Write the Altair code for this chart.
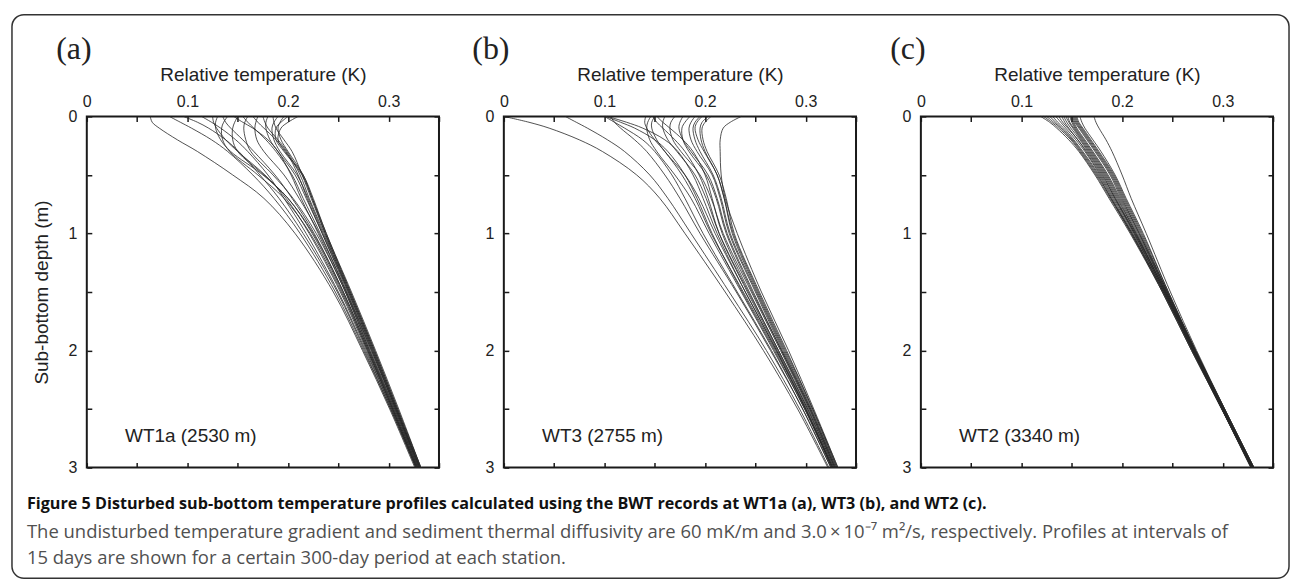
import altair as alt
import pandas as pd

DEPTHS = [0.0, 0.05, 0.1, 0.2, 0.3, 0.5, 0.7, 1.0, 1.5, 2.0, 2.5, 3.0]

# Relative temperature (K) of each 15-day profile, WT1a (2530 m)
PROFILES_A = [
    [0.063, 0.065, 0.072, 0.090, 0.110, 0.145, 0.176, 0.207, 0.245, 0.274, 0.301, 0.326],
    [0.082, 0.093, 0.104, 0.124, 0.140, 0.165, 0.186, 0.212, 0.247, 0.275, 0.302, 0.327],
    [0.096, 0.110, 0.121, 0.138, 0.151, 0.172, 0.191, 0.215, 0.249, 0.276, 0.302, 0.327],
    [0.114, 0.124, 0.133, 0.148, 0.160, 0.180, 0.196, 0.218, 0.250, 0.277, 0.303, 0.327],
    [0.125, 0.126, 0.129, 0.138, 0.150, 0.177, 0.198, 0.221, 0.252, 0.278, 0.303, 0.328],
    [0.130, 0.128, 0.128, 0.133, 0.143, 0.175, 0.200, 0.224, 0.254, 0.279, 0.304, 0.328],
    [0.135, 0.138, 0.143, 0.155, 0.166, 0.187, 0.204, 0.226, 0.255, 0.280, 0.304, 0.328],
    [0.140, 0.136, 0.134, 0.135, 0.142, 0.170, 0.196, 0.222, 0.253, 0.279, 0.304, 0.328],
    [0.146, 0.155, 0.165, 0.180, 0.190, 0.203, 0.213, 0.230, 0.257, 0.281, 0.305, 0.329],
    [0.150, 0.147, 0.145, 0.145, 0.150, 0.176, 0.200, 0.225, 0.255, 0.280, 0.305, 0.329],
    [0.155, 0.160, 0.166, 0.178, 0.188, 0.204, 0.215, 0.232, 0.258, 0.282, 0.306, 0.329],
    [0.160, 0.157, 0.156, 0.158, 0.163, 0.185, 0.205, 0.228, 0.257, 0.281, 0.306, 0.330],
    [0.165, 0.170, 0.176, 0.188, 0.198, 0.210, 0.219, 0.234, 0.259, 0.283, 0.307, 0.330],
    [0.170, 0.168, 0.167, 0.169, 0.176, 0.196, 0.211, 0.231, 0.258, 0.283, 0.307, 0.330],
    [0.175, 0.177, 0.180, 0.190, 0.199, 0.212, 0.221, 0.236, 0.260, 0.284, 0.307, 0.331],
    [0.180, 0.178, 0.178, 0.182, 0.190, 0.207, 0.218, 0.234, 0.260, 0.284, 0.308, 0.331],
    [0.185, 0.186, 0.188, 0.196, 0.204, 0.214, 0.223, 0.237, 0.261, 0.285, 0.308, 0.331],
    [0.190, 0.186, 0.184, 0.186, 0.192, 0.209, 0.220, 0.235, 0.261, 0.285, 0.308, 0.331],
    [0.196, 0.192, 0.190, 0.193, 0.200, 0.215, 0.224, 0.237, 0.262, 0.286, 0.309, 0.332],
    [0.200, 0.193, 0.188, 0.188, 0.196, 0.214, 0.224, 0.238, 0.262, 0.286, 0.309, 0.332],
    [0.210, 0.200, 0.193, 0.190, 0.197, 0.215, 0.225, 0.238, 0.263, 0.287, 0.310, 0.332],
]

# WT3 (2755 m)
PROFILES_B = [
    [0.000, 0.025, 0.045, 0.075, 0.098, 0.132, 0.155, 0.180, 0.220, 0.258, 0.292, 0.322],
    [0.061, 0.072, 0.083, 0.103, 0.120, 0.145, 0.163, 0.186, 0.224, 0.261, 0.294, 0.323],
    [0.100, 0.110, 0.120, 0.138, 0.150, 0.167, 0.180, 0.198, 0.232, 0.266, 0.297, 0.325],
    [0.101, 0.116, 0.130, 0.150, 0.163, 0.180, 0.192, 0.207, 0.237, 0.269, 0.299, 0.326],
    [0.103, 0.122, 0.138, 0.160, 0.173, 0.188, 0.198, 0.212, 0.240, 0.271, 0.300, 0.327],
    [0.106, 0.110, 0.116, 0.130, 0.142, 0.160, 0.175, 0.195, 0.231, 0.265, 0.297, 0.325],
    [0.141, 0.140, 0.142, 0.150, 0.160, 0.177, 0.190, 0.206, 0.238, 0.270, 0.300, 0.326],
    [0.146, 0.143, 0.142, 0.145, 0.152, 0.170, 0.186, 0.204, 0.236, 0.268, 0.299, 0.326],
    [0.148, 0.152, 0.158, 0.170, 0.180, 0.194, 0.203, 0.214, 0.242, 0.272, 0.301, 0.327],
    [0.150, 0.147, 0.147, 0.152, 0.160, 0.180, 0.194, 0.210, 0.240, 0.271, 0.300, 0.327],
    [0.152, 0.158, 0.165, 0.178, 0.188, 0.200, 0.207, 0.217, 0.244, 0.273, 0.302, 0.328],
    [0.160, 0.158, 0.158, 0.163, 0.172, 0.190, 0.201, 0.214, 0.243, 0.273, 0.302, 0.328],
    [0.170, 0.166, 0.165, 0.168, 0.176, 0.195, 0.206, 0.218, 0.246, 0.275, 0.303, 0.329],
    [0.178, 0.175, 0.174, 0.178, 0.186, 0.203, 0.212, 0.222, 0.248, 0.276, 0.304, 0.329],
    [0.185, 0.180, 0.177, 0.178, 0.184, 0.201, 0.211, 0.221, 0.247, 0.276, 0.304, 0.329],
    [0.190, 0.186, 0.184, 0.186, 0.192, 0.207, 0.215, 0.224, 0.250, 0.277, 0.305, 0.330],
    [0.195, 0.190, 0.188, 0.190, 0.195, 0.208, 0.216, 0.225, 0.251, 0.278, 0.305, 0.330],
    [0.197, 0.192, 0.190, 0.193, 0.199, 0.212, 0.219, 0.227, 0.252, 0.279, 0.306, 0.331],
    [0.203, 0.197, 0.195, 0.196, 0.200, 0.212, 0.219, 0.228, 0.253, 0.280, 0.307, 0.331],
    [0.206, 0.200, 0.197, 0.198, 0.202, 0.214, 0.221, 0.229, 0.254, 0.281, 0.307, 0.332],
    [0.236, 0.225, 0.218, 0.215, 0.215, 0.216, 0.220, 0.232, 0.256, 0.283, 0.308, 0.332],
]

# WT2 (3340 m)
PROFILES_C = [
    [0.119, 0.128, 0.135, 0.147, 0.157, 0.173, 0.187, 0.208, 0.240, 0.269, 0.299, 0.328],
    [0.122, 0.130, 0.137, 0.149, 0.158, 0.174, 0.188, 0.209, 0.240, 0.269, 0.299, 0.328],
    [0.125, 0.132, 0.139, 0.150, 0.159, 0.175, 0.189, 0.209, 0.241, 0.270, 0.299, 0.328],
    [0.128, 0.134, 0.140, 0.151, 0.160, 0.176, 0.189, 0.210, 0.241, 0.270, 0.299, 0.329],
    [0.131, 0.136, 0.142, 0.152, 0.161, 0.177, 0.190, 0.210, 0.241, 0.270, 0.300, 0.329],
    [0.134, 0.139, 0.144, 0.154, 0.163, 0.178, 0.191, 0.211, 0.242, 0.270, 0.300, 0.329],
    [0.137, 0.141, 0.146, 0.156, 0.164, 0.179, 0.192, 0.212, 0.242, 0.271, 0.300, 0.329],
    [0.140, 0.143, 0.147, 0.156, 0.165, 0.180, 0.193, 0.212, 0.242, 0.271, 0.300, 0.329],
    [0.142, 0.145, 0.149, 0.158, 0.166, 0.181, 0.193, 0.213, 0.243, 0.271, 0.300, 0.329],
    [0.144, 0.147, 0.151, 0.159, 0.167, 0.182, 0.194, 0.213, 0.243, 0.271, 0.300, 0.329],
    [0.146, 0.148, 0.152, 0.160, 0.168, 0.183, 0.195, 0.214, 0.243, 0.271, 0.300, 0.330],
    [0.148, 0.150, 0.153, 0.161, 0.169, 0.184, 0.196, 0.214, 0.243, 0.272, 0.301, 0.330],
    [0.149, 0.151, 0.154, 0.162, 0.170, 0.185, 0.197, 0.215, 0.244, 0.272, 0.301, 0.330],
    [0.150, 0.152, 0.155, 0.163, 0.171, 0.186, 0.198, 0.216, 0.244, 0.272, 0.301, 0.330],
    [0.151, 0.153, 0.157, 0.165, 0.173, 0.188, 0.199, 0.217, 0.244, 0.272, 0.301, 0.330],
    [0.152, 0.154, 0.158, 0.166, 0.174, 0.189, 0.200, 0.217, 0.245, 0.272, 0.301, 0.330],
    [0.153, 0.155, 0.159, 0.167, 0.175, 0.190, 0.201, 0.218, 0.245, 0.273, 0.301, 0.330],
    [0.154, 0.156, 0.160, 0.168, 0.176, 0.191, 0.202, 0.219, 0.245, 0.273, 0.301, 0.331],
    [0.155, 0.157, 0.161, 0.169, 0.177, 0.192, 0.203, 0.220, 0.246, 0.273, 0.302, 0.331],
    [0.158, 0.160, 0.163, 0.171, 0.179, 0.193, 0.204, 0.221, 0.246, 0.273, 0.302, 0.331],
    [0.172, 0.174, 0.177, 0.184, 0.190, 0.200, 0.209, 0.224, 0.248, 0.274, 0.302, 0.331],
]

X_TICKS = [0, 0.05, 0.1, 0.15, 0.2, 0.25, 0.3, 0.35]
Y_TICKS = [0, 0.5, 1, 1.5, 2, 2.5, 3]
STATIONS = ["WT1a (2530 m)", "WT3 (2755 m)", "WT2 (3340 m)"]
PANEL_TAGS = ["(a)", "(b)", "(c)"]
STATION_LABEL_T = 0.038
STATION_LABEL_DEPTH = 2.73

CAPTION_BOLD = ("Figure 5 Disturbed sub-bottom temperature profiles calculated using the "
                "BWT records at WT1a (a), WT3 (b), and WT2 (c).")
CAPTION_LINE2 = ("The undisturbed temperature gradient and sediment thermal diffusivity are "
                 "60 mK/m and 3.0\u2009\u00d7\u200910\u207b\u2077 m\u00b2/s, respectively. "
                 "Profiles at intervals of")
CAPTION_LINE3 = "15 days are shown for a certain 300-day period at each station."

SANS = "Liberation Sans"
CAP_FONT = "Open Sans"

X_LABEL_EXPR = ("(round(datum.value*100) % 10 == 0 && datum.value < 0.34) ? "
                "(datum.value == 0 ? '0' : format(datum.value, '.1f')) : ''")
Y_LABEL_EXPR = "(round(datum.value*10) % 10 == 0) ? format(datum.value, 'd') : ''"

ONE = alt.Data(values=[{"k": 1}])


def panel(profiles, station, tag, first):
    rows = []
    for i, prof in enumerate(profiles):
        for d, t in zip(DEPTHS, prof):
            rows.append({"profile": i, "depth": d, "temp": t})
    df = pd.DataFrame(rows)
    xs = alt.Scale(domain=[0, 0.35], nice=False, zero=False)
    ys = alt.Scale(domain=[0, 3], reverse=True, nice=False)

    top_axis = alt.Axis(orient="top", values=X_TICKS, labelExpr=X_LABEL_EXPR,
                        title="Relative temperature (K)", offset=-5, tickSize=5,
                        domain=False, grid=False, labelPadding=7, titlePadding=9,
                        labelFlush=False, labelOverlap=False)
    if first:
        left_axis = alt.Axis(orient="left", values=Y_TICKS, labelExpr=Y_LABEL_EXPR,
                             title="Sub-bottom depth (m)", offset=-5, tickSize=5,
                             domain=False, grid=False, labelPadding=10, titlePadding=16,
                             labelFlush=False, labelOverlap=False)
    else:
        left_axis = alt.Axis(orient="left", values=Y_TICKS, labelExpr=Y_LABEL_EXPR,
                             title=None, offset=-5, tickSize=5,
                             domain=False, grid=False, labelPadding=10,
                             labelFlush=False, labelOverlap=False)

    lines = alt.Chart(df).mark_line(
        interpolate="catmull-rom", strokeWidth=0.8, color="#262626"
    ).encode(
        x=alt.X("temp:Q", scale=xs, axis=top_axis),
        y=alt.Y("depth:Q", scale=ys, axis=left_axis),
        detail="profile:N",
        order="depth:Q",
    )

    lab_df = pd.DataFrame({"temp": [STATION_LABEL_T], "depth": [STATION_LABEL_DEPTH],
                           "text": [station]})
    label = alt.Chart(lab_df).mark_text(
        align="left", baseline="middle", fontSize=19, font=SANS, color="#222"
    ).encode(
        x=alt.X("temp:Q", scale=xs,
                axis=alt.Axis(orient="bottom", values=X_TICKS, labels=False, title=None,
                              offset=-5, tickSize=5, domain=False, grid=False)),
        y=alt.Y("depth:Q", scale=ys,
                axis=alt.Axis(orient="right", values=Y_TICKS, labels=False, title=None,
                              offset=-5, tickSize=5, domain=False, grid=False)),
        text="text:N",
    )

    tag_mark = alt.Chart(ONE).mark_text(
        text=tag, font="Liberation Serif", fontSize=32, align="center",
        baseline="middle", color="#222"
    ).encode(x=alt.value(-13), y=alt.value(-68))

    layers = [lines, label, tag_mark]
    if first:
        frame = alt.Chart(ONE).mark_rect(
            filled=False, stroke="#333", strokeWidth=1.5, cornerRadius=12
        ).encode(x=alt.value(-75), x2=alt.value(1205), y=alt.value(-102), y2=alt.value(463))
        cap1 = alt.Chart(ONE).mark_text(
            text=CAPTION_BOLD, font=CAP_FONT, fontSize=16.2, fontWeight="bold",
            align="left", baseline="alphabetic", color="#111"
        ).encode(x=alt.value(-60), y=alt.value(394))
        cap2 = alt.Chart(ONE).mark_text(
            text=CAPTION_LINE2, font=CAP_FONT, fontSize=18.5,
            align="left", baseline="alphabetic", color="#505050"
        ).encode(x=alt.value(-60), y=alt.value(423))
        cap3 = alt.Chart(ONE).mark_text(
            text=CAPTION_LINE3, font=CAP_FONT, fontSize=18.5,
            align="left", baseline="alphabetic", color="#505050"
        ).encode(x=alt.value(-60), y=alt.value(449))
        layers += [frame, cap1, cap2, cap3]

    return alt.layer(*layers).resolve_axis(x="independent", y="independent").properties(
        width=353, height=352
    )


pa = panel(PROFILES_A, STATIONS[0], PANEL_TAGS[0], True)
pb = panel(PROFILES_B, STATIONS[1], PANEL_TAGS[1], False)
pc = panel(PROFILES_C, STATIONS[2], PANEL_TAGS[2], False)

chart = alt.hconcat(pa, pb, pc, spacing=65, bounds="flush").properties(
    padding={"left": 10, "top": 12, "right": 4, "bottom": 4},
    background="white",
).configure_view(
    stroke="#1a1a1a", strokeWidth=2
).configure_axis(
    labelFont=SANS, titleFont=SANS, labelFontSize=16, titleFontSize=19,
    titleFontWeight="normal", labelColor="#222", titleColor="#222",
    tickColor="#1a1a1a", tickWidth=1.5,
)

chart.save("out.html", embed_options={"renderer": "svg", "actions": False})
